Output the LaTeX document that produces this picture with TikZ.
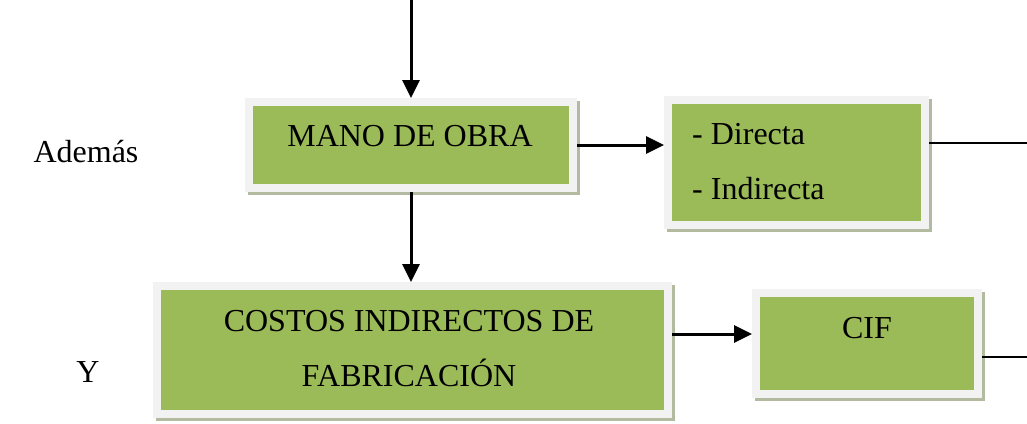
\documentclass[tikz,border=0pt]{standalone}
\usepackage{fontspec}
\setmainfont{Liberation Serif}
\usetikzlibrary{arrows.meta,positioning,calc}
\definecolor{boxgreen}{HTML}{9BBB59}
\definecolor{boxrim}{HTML}{F2F2F2}
\definecolor{boxshade}{HTML}{B2BAA0}

\begin{document}
\begin{tikzpicture}[x=1pt,y=-1pt]

  \tikzstyle{every node}=[font=\fontsize{32}{38}\selectfont, inner sep=0pt]

  \tikzset{greenbox/.style={draw=boxrim, line width=8pt, fill=boxgreen,
      preaction={draw=boxshade, fill=boxshade, line width=8pt,
        transform canvas={shift={(3pt,-3pt)}}}}}
  \tikzset{myptr/.style={line width=3pt, -{Triangle[length=18pt,width=17pt]}}}
  \tikzset{myline/.style={line width=1.8pt}}

  \useasboundingbox (0,0) rectangle (1027,423);

  % Boxes
  \node[greenbox, minimum width=324pt, minimum height=86pt] (mano) at (411,145) {};
  \node[greenbox, minimum width=257pt, minimum height=125pt] (directa) at (796.5,162.5) {};
  \node[greenbox, minimum width=511pt, minimum height=128pt] (costos) at (412.5,350) {};
  \node[greenbox, minimum width=222pt, minimum height=101pt] (cif) at (867,343.5) {};

  % Texts
  \node[anchor=base] (mano text) at (410,146) {MANO DE OBRA};
  \node[anchor=base west] (directa text) at (692,144) {- Directa};
  \node[anchor=base west] (indirecta text) at (692,199) {- Indirecta};
  \node[anchor=base] (costos text) at (409,331) {COSTOS INDIRECTOS DE};
  \node[anchor=base] (fabricacion text) at (409,386) {FABRICACIÓN};
  \node[anchor=base] (cif text) at (867,338) {CIF};
  \node[anchor=base] (ademas) at (86,162) {Además};
  \node[anchor=base] (y) at (88,382) {Y};

  % Arrows
  \coordinate (start) at (411,0);
  \draw[myptr] (start) -- (mano.north);
  \draw[myptr] (mano.south) -- (mano.south |- costos.north);
  \draw[myptr] (mano.east) -- (mano.east -| directa.west);
  \draw[myptr] ([yshift=16pt]costos.east) -- ([yshift=16pt]costos.east -| cif.west);

  % Lines leaving the picture
  \coordinate (directa out) at (1027,143);
  \draw[myline] (directa.east |- directa out) -- (directa out);
  \coordinate (cif out) at (1027,357);
  \draw[myline] (cif.east |- cif out) -- (cif out);

\end{tikzpicture}
\end{document}
